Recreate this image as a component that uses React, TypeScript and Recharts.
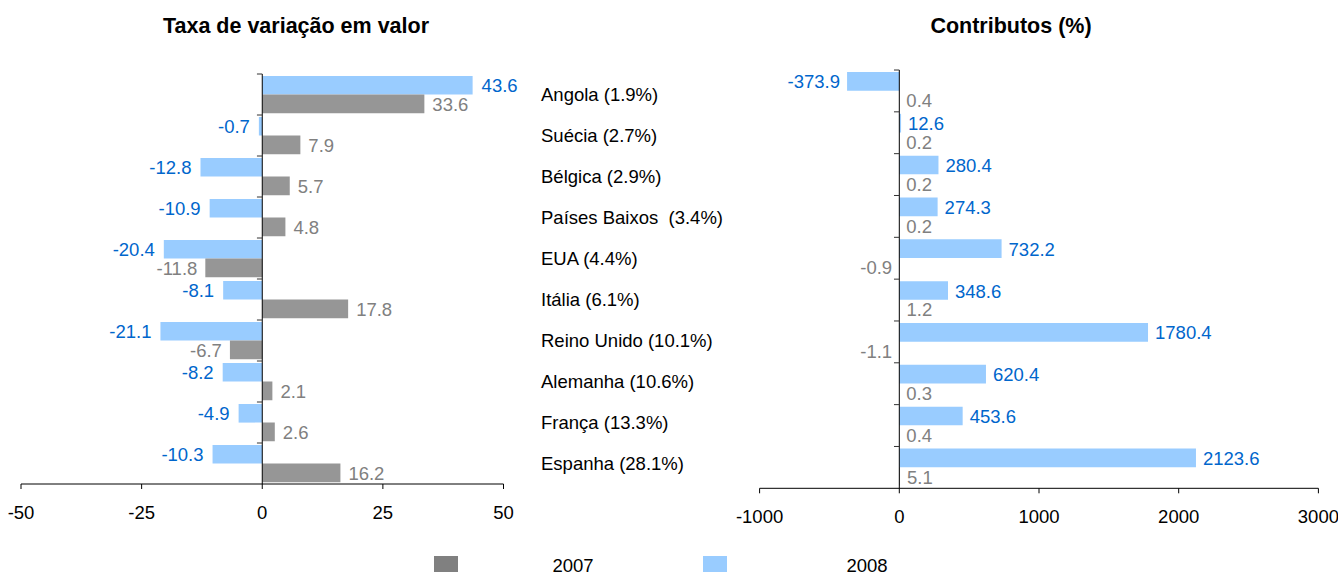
import React from 'react';
import { BarChart, Bar, XAxis, YAxis, ReferenceLine, LabelList } from 'recharts';

// ---- data ----
const categories = [
  'Angola (1.9%)',
  'Suécia (2.7%)',
  'Bélgica (2.9%)',
  'Países Baixos  (3.4%)',
  'EUA (4.4%)',
  'Itália (6.1%)',
  'Reino Unido (10.1%)',
  'Alemanha (10.6%)',
  'França (13.3%)',
  'Espanha (28.1%)',
];
const variation2007 = [33.6, 7.9, 5.7, 4.8, -11.8, 17.8, -6.7, 2.1, 2.6, 16.2];
const variation2008 = [43.6, -0.7, -12.8, -10.9, -20.4, -8.1, -21.1, -8.2, -4.9, -10.3];
const contrib2007 = [0.4, 0.2, 0.2, 0.2, -0.9, 1.2, -1.1, 0.3, 0.4, 5.1];
const contrib2008 = [-373.9, 12.6, 280.4, 274.3, 732.2, 348.6, 1780.4, 620.4, 453.6, 2123.6];
const leftTicks = [-50, -25, 0, 25, 50];
const rightTicks = [-1000, 0, 1000, 2000, 3000];
const seriesNames = ['2007', '2008'];
const titles = ['Taxa de variação em valor', 'Contributos (%)'];

const leftData = categories.map((name, i) => ({ name, v2007: variation2007[i], v2008: variation2008[i] }));
const rightData = categories.map((name, i) => ({ name, v2007: contrib2007[i], v2008: contrib2008[i] }));

// ---- styles ----
const FONT = '"Liberation Sans", Arial, sans-serif';
const FS = 18.5;
const BLUE = '#99CCFF';
const GRAY = '#969696';
const BLUE_TXT = '#0066CC';
const GRAY_TXT = '#808080';

const makeLabel = (color: string, offset: number) => (props: any) => {
  const { x, y, width, height, value } = props;
  const xs = Number(x);
  const w = Number(width);
  const lo = Math.min(xs, xs + w);
  const hi = Math.max(xs, xs + w);
  const neg = Number(value) < 0;
  return (
    <text
      x={neg ? lo - offset : hi + offset}
      y={Number(y) + Number(height) / 2 + 7}
      textAnchor={neg ? 'end' : 'start'}
      fill={color}
      fontSize={FS}
      fontFamily={FONT}
    >
      {Number(value).toFixed(1)}
    </text>
  );
};

const CategoryTick = (props: any) => {
  const { x, y, payload } = props;
  return (
    <text x={x} y={y} dy="0.36em" textAnchor="start" fill="#000" fontSize={FS} fontFamily={FONT} style={{ whiteSpace: 'pre' }}>
      {payload.value}
    </text>
  );
};

const axisTick = { fontSize: FS, fontFamily: FONT, fill: '#000' };

export default function App() {
  return (
    <div style={{ position: 'absolute', left: 0, top: 0, width: 1338, height: 575, overflow: 'hidden', background: '#fff' }}>
      {/* Left chart */}
      <div style={{ position: 'absolute', left: 0, top: 0 }}>
        <BarChart
          width={760}
          height={575}
          data={leftData}
          layout="vertical"
          margin={{ top: 74, right: 16.5, bottom: 51, left: 21 }}
          barSize={18.6}
          barGap={0}
        >
          <XAxis
            type="number"
            domain={[-50, 50]}
            ticks={leftTicks}
            interval={0}
            allowDataOverflow
            height={40}
            stroke="#000"
            tickSize={5}
            tickMargin={17}
            tick={axisTick}
          />
          <YAxis
            type="category"
            dataKey="name"
            orientation="right"
            width={240}
            axisLine={false}
            tickLine={false}
            tickSize={0}
            tickMargin={37.5}
            tick={<CategoryTick />}
            interval={0}
          />
          <ReferenceLine x={0} stroke="#000" strokeWidth={1} />
          {categories.map((c) => (
            <ReferenceLine
              key={c}
              segment={[{ x: -1.1, y: c }, { x: 0, y: c }]}
              position="start"
              ifOverflow="visible"
              stroke="#333"
              strokeWidth={1}
            />
          ))}
          <Bar dataKey="v2008" name={seriesNames[1]} fill={BLUE} isAnimationActive={false}>
            <LabelList dataKey="v2008" content={makeLabel(BLUE_TXT, 9)} />
          </Bar>
          <Bar dataKey="v2007" name={seriesNames[0]} fill={GRAY} isAnimationActive={false}>
            <LabelList dataKey="v2007" content={makeLabel(GRAY_TXT, 8)} />
          </Bar>
        </BarChart>
      </div>

      {/* Right chart */}
      <div style={{ position: 'absolute', left: 720, top: 0 }}>
        <BarChart
          width={618}
          height={575}
          data={rightData}
          layout="vertical"
          margin={{ top: 70, right: 19.6, bottom: 46.7, left: 39.6 }}
          barSize={18.7}
          barGap={0}
        >
          <XAxis
            type="number"
            domain={[-1000, 3000]}
            ticks={rightTicks}
            interval={0}
            allowDataOverflow
            height={40}
            stroke="#000"
            tickSize={5}
            tickMargin={17}
            tick={axisTick}
          />
          <YAxis type="category" dataKey="name" hide />
          <ReferenceLine x={0} stroke="#000" strokeWidth={1} />
          {categories.map((c) => (
            <ReferenceLine
              key={c}
              segment={[{ x: -38, y: c }, { x: 0, y: c }]}
              position="start"
              ifOverflow="visible"
              stroke="#333"
              strokeWidth={1}
            />
          ))}
          <Bar dataKey="v2008" name={seriesNames[1]} fill={BLUE} isAnimationActive={false}>
            <LabelList dataKey="v2008" content={makeLabel(BLUE_TXT, 7)} />
          </Bar>
          <Bar dataKey="v2007" name={seriesNames[0]} fill={GRAY} isAnimationActive={false}>
            <LabelList dataKey="v2007" content={makeLabel(GRAY_TXT, 7)} />
          </Bar>
        </BarChart>
      </div>

      {/* Titles and legend */}
      <svg width={1338} height={575} style={{ position: 'absolute', left: 0, top: 0, pointerEvents: 'none' }}>
        <text x={296} y={33} textAnchor="middle" fontSize={21.5} fontWeight="bold" fontFamily={FONT} fill="#000">
          {titles[0]}
        </text>
        <text x={1011} y={33} textAnchor="middle" fontSize={21.5} fontWeight="bold" fontFamily={FONT} fill="#000">
          {titles[1]}
        </text>
        <rect x={434} y={556} width={24} height={16} fill="#808080" />
        <text x={573} y={572} textAnchor="middle" fontSize={FS} fontFamily={FONT} fill="#000">
          {seriesNames[0]}
        </text>
        <rect x={703} y={556} width={24} height={16} fill={BLUE} />
        <text x={867} y={572} textAnchor="middle" fontSize={FS} fontFamily={FONT} fill="#000">
          {seriesNames[1]}
        </text>
      </svg>
    </div>
  );
}
